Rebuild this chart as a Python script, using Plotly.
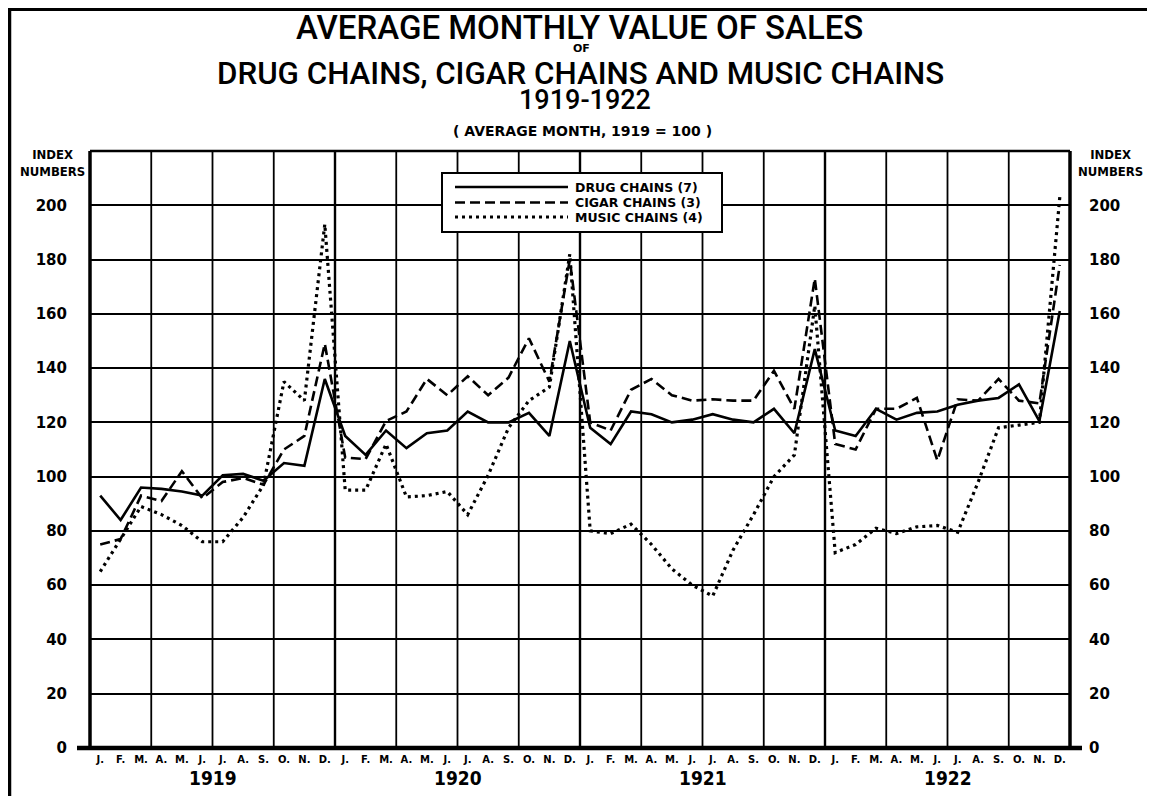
import plotly.graph_objects as go

# ---------------- data ----------------
month_letters = ["J.", "F.", "M.", "A.", "M.", "J.", "J.", "A.", "S.", "O.", "N.", "D."]
years = ["1919", "1920", "1921", "1922"]
month_index = list(range(48))
month_ticktext = month_letters * 4

drug_chains = [
    93, 84, 96, 95.5, 94.5, 93, 100.5, 101, 98.5, 105, 104, 136,
    115, 108, 117, 110.5, 116, 117, 124, 120, 120, 123.5, 115, 150,
    118, 112, 124, 123, 120, 121, 123, 121, 120, 125, 116, 147,
    117, 115, 125, 121, 123.5, 124, 126.5, 128, 129, 134, 120.5, 161,
]
cigar_chains = [
    75, 77, 93, 91, 102, 92, 98, 99.5, 97, 110, 115, 149,
    107, 106.5, 120.5, 124, 136, 130, 137, 130, 136.5, 151, 135, 180,
    120, 117, 132, 136, 130, 128, 128.5, 128, 128, 139, 125, 173,
    112, 110, 125, 125, 129, 106, 128.5, 128, 136, 128, 127, 178,
]
music_chains = [
    65, 77, 89, 86, 82, 76, 76, 85, 97, 135, 128, 193,
    95, 95, 112, 92.5, 93, 94.5, 86, 100.5, 118, 128, 133, 182,
    80, 79, 82.5, 75, 66, 60, 56, 73, 86, 100, 108, 163,
    72, 75, 81, 79, 81.5, 82, 79.5, 98, 118, 119, 120, 203,
]
series_names = ["DRUG CHAINS (7)", "CIGAR CHAINS (3)", "MUSIC CHAINS (4)"]
y_ticks = list(range(0, 201, 20))

# ---------------- layout geometry (page pixels; page body has 8px margin) ----------------
OFF = 8
W, H = 1155 - OFF, 796 - OFF
L, R, T, B = 90 - OFF, 1070 - OFF, 151 - OFF, 748 - OFF
PW, PH = R - L, B - T


def px(xp):  # page x pixel -> paper
    return (xp - OFF - L) / PW


def py(yp):  # page y pixel -> paper
    return (B - (yp - OFF)) / PH


FONT = "DejaVu Sans, Liberation Sans, Arial, sans-serif"
CFONT = "DejaVu Sans Condensed, Liberation Sans Narrow, DejaVu Sans, sans-serif"
TFONT = "Roboto, DejaVu Sans, sans-serif"

line_styles = [
    dict(color="black", width=2.6),
    dict(color="black", width=2.6, dash="10px,5px"),
    dict(color="black", width=3.2, dash="3px,4px"),
]

fig = go.Figure()
for name, vals, st in zip(series_names, [drug_chains, cigar_chains, music_chains], line_styles):
    fig.add_trace(go.Scatter(x=month_index, y=vals, mode="lines", name=name, line=st, showlegend=False))
# invisible trace to activate right axis
fig.add_trace(go.Scatter(x=[0], y=[0], yaxis="y2", mode="markers", marker=dict(opacity=0),
                         showlegend=False, hoverinfo="skip"))

shapes = []
# vertical grid lines every 3 months
for k in range(1, 16):
    xv = -0.5 + 3 * k
    shapes.append(dict(type="line", xref="x", yref="paper", x0=xv, x1=xv, y0=0, y1=1,
                       line=dict(color="black", width=2.4 if k % 4 == 0 else 1.8), layer="below"))
# plot borders
shapes.append(dict(type="line", xref="paper", yref="paper", x0=0, x1=0, y0=py(750), y1=1,
                   line=dict(color="black", width=3.5)))
shapes.append(dict(type="line", xref="paper", yref="paper", x0=1, x1=1, y0=py(750), y1=1,
                   line=dict(color="black", width=3.5)))
shapes.append(dict(type="line", xref="paper", yref="paper", x0=0, x1=1, y0=1, y1=1,
                   line=dict(color="black", width=2.4)))
shapes.append(dict(type="line", xref="paper", yref="paper", x0=px(77), x1=px(1082), y0=0, y1=0,
                   line=dict(color="black", width=4.5)))
# outer frame of the page
shapes.append(dict(type="line", xref="paper", yref="paper", x0=px(9.5), x1=px(9.5), y0=py(800), y1=py(9),
                   line=dict(color="black", width=3.5)))
shapes.append(dict(type="line", xref="paper", yref="paper", x0=px(8), x1=px(1151), y0=py(9.5), y1=py(9.5),
                   line=dict(color="black", width=3)))
shapes.append(dict(type="line", xref="paper", yref="paper", x0=px(1150), x1=px(1150), y0=py(800), y1=py(9),
                   line=dict(color="black", width=3)))

# manual legend box (page coords)
shapes.append(dict(type="rect", xref="paper", yref="paper", x0=px(442), x1=px(722), y0=py(232), y1=py(173),
                   line=dict(color="black", width=2), fillcolor="white", layer="above"))
legend_rows = [187, 202.5, 217]
for yrow, st in zip(legend_rows, line_styles):
    shapes.append(dict(type="line", xref="paper", yref="paper", x0=px(455), x1=px(568),
                       y0=py(yrow), y1=py(yrow), line=st, layer="above"))

annotations = []


def ann(text, xp, yp, size, family=FONT, bold=True, xanchor="center", weight=None):
    f = dict(family=family, size=size, color="black")
    if weight is not None:
        f["weight"] = weight
    annotations.append(dict(text=("<b>%s</b>" % text) if bold else text, x=px(xp), y=py(yp),
                            xref="paper", yref="paper", showarrow=False, xanchor=xanchor,
                            yanchor="middle", font=f))


ann("AVERAGE MONTHLY VALUE OF SALES", 579, 27, 33, TFONT, bold=False, weight=500)
ann("OF", 581, 48.5, 11, FONT)
ann("DRUG CHAINS, CIGAR CHAINS AND MUSIC CHAINS", 580, 73, 31.3, TFONT, bold=False, weight=500)
ann("1919-1922", 585, 99.5, 27, TFONT, bold=False, weight=500)
ann("( AVERAGE MONTH, 1919 = 100 )", 582, 131, 14, FONT)
ann("INDEX<br>NUMBERS", 52, 163, 13, CFONT)
ann("INDEX<br>NUMBERS", 1110, 163, 13, CFONT)
for yrow, name in zip(legend_rows, series_names):
    ann(name, 573, yrow, 12.5, FONT, xanchor="left")
for i, yr in enumerate(years):
    annotations.append(dict(text="<b>%s</b>" % yr, x=12 * i + 5.5, y=py(778), xref="x", yref="paper",
                            showarrow=False, xanchor="center", yanchor="middle",
                            font=dict(family=CFONT, size=19, color="black")))

fig.update_layout(
    width=W, height=H,
    margin=dict(l=L, r=W - R, t=T, b=H - B, pad=0),
    paper_bgcolor="white", plot_bgcolor="white",
    showlegend=False,
    xaxis=dict(range=[-0.5, 47.5], tickmode="array", tickvals=month_index,
               ticktext=["<b>%s</b>" % t for t in month_ticktext],
               showgrid=False, zeroline=False, showline=False, ticks="", ticklabelstandoff=4,
               tickfont=dict(family=FONT, size=10, color="black"), tickangle=0),
    yaxis=dict(range=[0, 220], tickmode="array", tickvals=y_ticks,
               ticktext=["<b>%d</b>" % v for v in y_ticks],
               showgrid=True, gridcolor="black", gridwidth=2, zeroline=False, showline=False,
               ticks="", ticklabelstandoff=22,
               tickfont=dict(family=FONT, size=15, color="black")),
    yaxis2=dict(range=[0, 220], overlaying="y", side="right", tickmode="array", tickvals=y_ticks,
                ticktext=["<b>%d</b>" % v for v in y_ticks],
                showgrid=False, zeroline=False, showline=False, ticks="", ticklabelstandoff=18,
                tickfont=dict(family=FONT, size=15, color="black")),
    shapes=shapes,
    annotations=annotations,
)

fig.write_html("out.html")
